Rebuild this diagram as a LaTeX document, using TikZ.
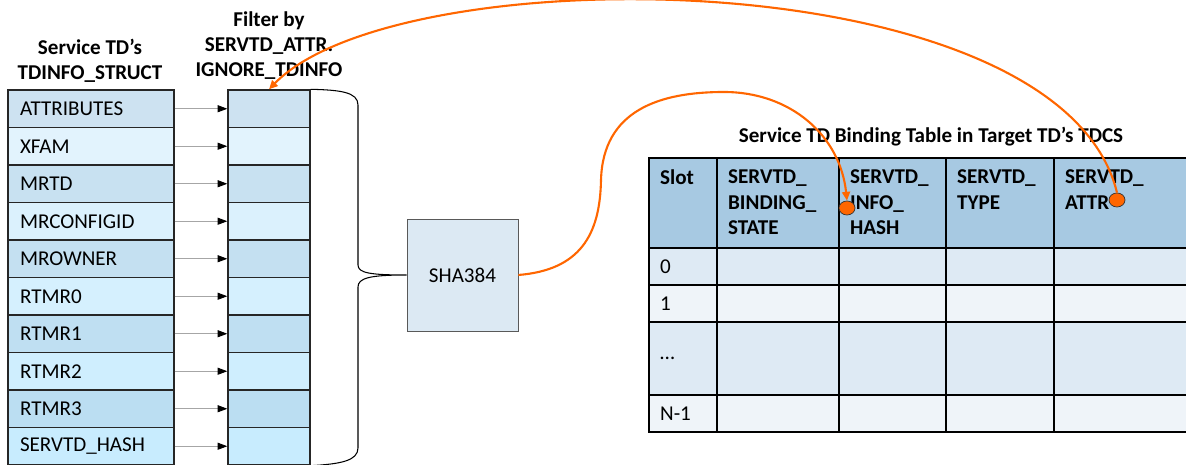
\documentclass[tikz,border=0pt]{standalone}
\usepackage{fontspec}
\setmainfont{Carlito}
\usepackage{xcolor}
\usepackage{tikz}
\usetikzlibrary{arrows.meta,shapes.geometric}

\definecolor{darkA}{RGB}{205,226,241}
\definecolor{darkB}{RGB}{184,221,242}
\definecolor{liteA}{RGB}{229,244,253}
\definecolor{liteB}{RGB}{200,236,254}
\definecolor{hdrblue}{RGB}{167,201,226}
\definecolor{rowdark}{RGB}{222,234,244}
\definecolor{rowlite}{RGB}{239,244,249}
\definecolor{shafill}{RGB}{220,233,243}
\definecolor{hot}{RGB}{255,102,0}

\begin{document}
\begin{tikzpicture}[
  fld/.style={draw=black!85, line width=0.8pt, minimum width=3.32cm, minimum height=0.75cm,
    inner xsep=0.24cm, text width=2.84cm, align=left, font=\fontsize{12}{14.4}\selectfont},
  flt/.style={draw=black!85, line width=0.8pt, minimum width=1.64cm, minimum height=0.75cm},
  fwd/.style={-{Triangle[black,length=5.5pt,width=4pt]}, gray!70, line width=0.5pt},
  ttl/.style={font=\bfseries\fontsize{12}{14.4}\selectfont, align=center, inner sep=0pt},
  cell/.style={draw=black, line width=0.8pt, inner sep=0pt},
  htxt/.style={font=\bfseries\fontsize{12}{14.4}\selectfont, align=left, inner xsep=0.23cm, inner ysep=7pt},
  btxt/.style={font=\fontsize{12}{14.4}\selectfont, inner xsep=0.23cm},
  hsh/.style={draw=black!65, fill=shafill, minimum width=2.22cm, minimum height=2.24cm,
    font=\fontsize{12}{14.4}\selectfont},
  dot/.style={ellipse, draw=black!80, line width=0.4pt, fill=hot, minimum width=0.32cm, minimum height=0.28cm, inner sep=0pt},
  link/.style={-{Triangle[length=5pt,width=4.5pt]}, hot, line width=1.2pt},
]
  \useasboundingbox (0,0) rectangle (23.72,9.3);

  % TDINFO_STRUCT fields and filter mask
  \foreach \lbl [count=\i from 0] in {ATTRIBUTES,XFAM,MRTD,MRCONFIGID,MROWNER,RTMR0,RTMR1,RTMR2,RTMR3,SERVTD\_HASH} {
    \pgfmathtruncatemacro\mix{100-11*\i}
    \pgfmathtruncatemacro\odd{mod(\i,2)}
    \ifnum\odd=0 \colorlet{rowfill}{darkA!\mix!darkB}\else \colorlet{rowfill}{liteA!\mix!liteB}\fi
    \node[fld, fill=rowfill] (a\i) at (1.82,7.125-0.75*\i) {\lbl};
    \node[flt, fill=rowfill] (f\i) at (5.38,7.125-0.75*\i) {};
    \draw[fwd] (a\i) -- (f\i);
  }
  \node[ttl, anchor=north] (tdinfo) at (1.80,8.53) {Service TD's\\TDINFO\_STRUCT};
  \node[ttl, anchor=north] (filter) at (5.38,9.08) {Filter by\\SERVTD\_ATTR.\\IGNORE\_TDINFO};

  % hash
  \node[hsh] (sha) at (9.25,3.80) {SHA384};
  \draw[line width=0.6pt] (f0.north east) .. controls (6.8,7.5) and (7.16,7.46) .. (7.16,7.2)
    -- (7.16,4.0) .. controls (7.16,3.84) and (7.4,3.8) .. (sha.west)
    .. controls (7.4,3.8) and (7.16,3.74) .. (7.16,3.56)
    -- (7.16,0.34) .. controls (7.16,0.08) and (6.8,0.02) .. (f9.south east);

  % binding table
  \node[ttl] (tbltitle) at (18.62,6.56) {Service TD Binding Table in Target TD's TDCS};
  \foreach \xl/\w/\nm [count=\c] in {12.98/1.36/Slot, 14.34/2.44/{SERVTD\_\\BINDING\_\\STATE},
      16.78/2.14/{SERVTD\_\\INFO\_\\HASH}, 18.92/2.16/{SERVTD\_\\TYPE}, 21.08/2.9/{SERVTD\_\\ATTR}} {
    \node[cell, fill=hdrblue, minimum width=\w cm, minimum height=1.8cm] (h\c) at (\xl+\w/2,5.24) {};
    \node[htxt, anchor=north west] at (h\c.north west) {\nm};
  }
  \foreach \yc/\h/\rf/\txt [count=\r] in {3.97/0.74/rowdark/0, 3.23/0.74/rowlite/1,
      2.13/1.46/rowdark/\dots, 1.03/0.74/rowlite/N-1} {
    \foreach \xl/\w [count=\c] in {12.98/1.36, 14.34/2.44, 16.78/2.14, 18.92/2.16, 21.08/2.9} {
      \node[cell, fill=\rf, minimum width=\w cm, minimum height=\h cm] (b\r-\c) at (\xl+\w/2,\yc) {};
    }
    \node[btxt, anchor=west] at (b\r-1.west) {\txt};
  }

  % links
  \node[dot] (infodot) at (16.94,5.14) {};
  \node[dot] (attrdot) at (22.34,5.30) {};
  \draw[link] (sha.east) .. controls (11.6,3.9) and (12.0,4.6) .. (12.02,5.7)
    .. controls (12.06,7.1) and (13.2,7.46) .. (14.48,7.46)
    .. controls (15.8,7.46) and (16.8,6.6) .. (infodot.north);
  \draw[link] (attrdot.north) .. controls (21.2,10.1) and (8.0,10.2) .. (f0.north);
\end{tikzpicture}
\end{document}
